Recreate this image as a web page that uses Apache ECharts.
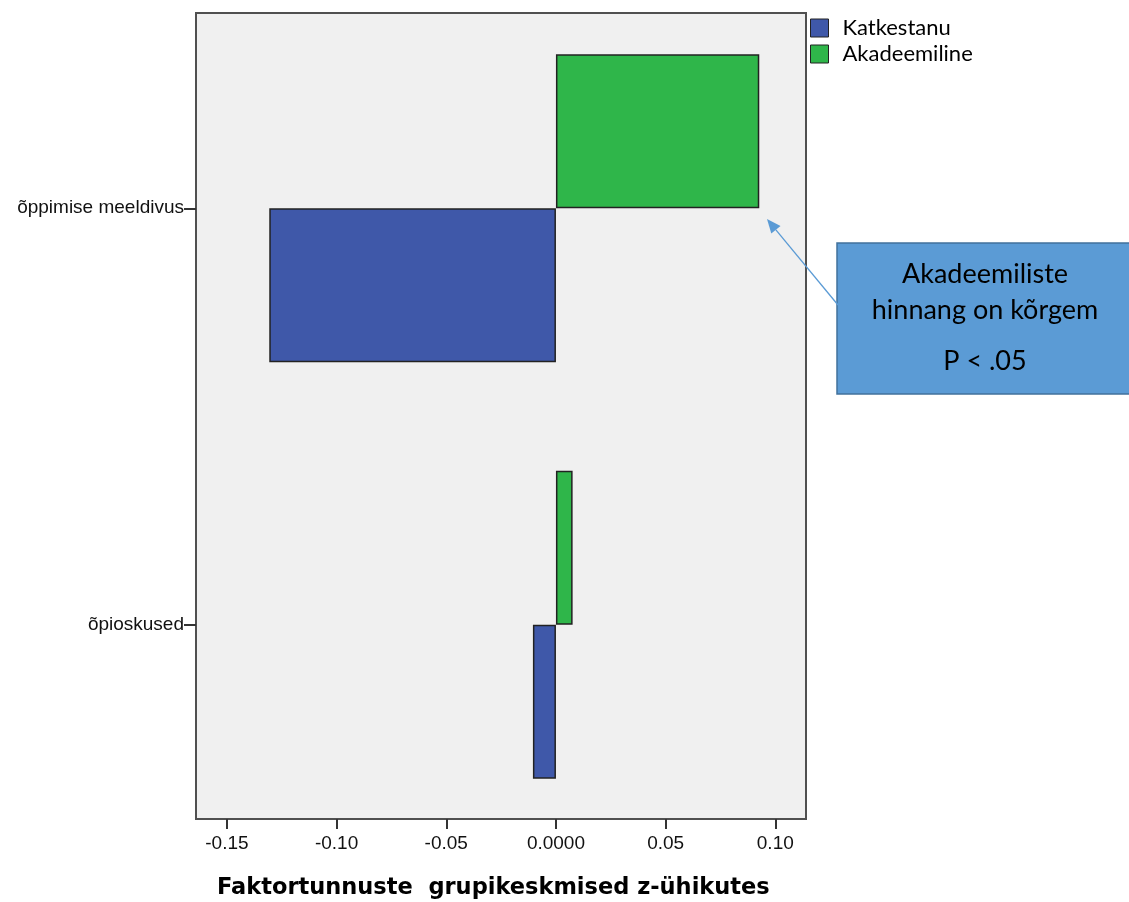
<!DOCTYPE html>
<html>
<head>
<meta charset="utf-8">
<script src="https://cdn.jsdelivr.net/npm/echarts@6/dist/echarts.min.js"></script>
<style>html,body{margin:0;padding:0;background:#fff;}#c{width:1129px;height:902px;}</style>
</head>
<body>
<div id="c"></div>
<script>
const categories = ['õppimise meeldivus', 'õpioskused'];
const katkestanu = [-0.1307, -0.0105];
const akadeemiline = [0.0927, 0.0076];
const tickValues = [-0.15, -0.10, -0.05, 0, 0.05, 0.10];
const tickLabels = ['-0.15', '-0.10', '-0.05', '0.0000', '0.05', '0.10'];
const xMin = -0.1641, xMax = 0.1140;

const chart = echarts.init(document.getElementById('c'), null, {renderer: 'canvas'});
const labelFont = 'Liberation Sans, Arial, sans-serif';
const calloutFont = 'Lato, "Open Sans", sans-serif';

const tip = [767, 219], tail = [838, 305];
const dx = tail[0]-tip[0], dy = tail[1]-tip[1], L = Math.hypot(dx, dy);
const ux = dx/L, uy = dy/L, ah = 14, aw = 6;
const bx = tip[0]+ux*ah, by = tip[1]+uy*ah;

chart.setOption({
  animation: false,
  backgroundColor: '#ffffff',
  grid: [
    {left: 196, right: 1129-806, top: 0, height: 833, show: false, containLabel: false},
    {left: 196, right: 1129-806, top: 13, bottom: 902-819, show: true,
     backgroundColor: '#f0f0f0', borderColor: '#505050', borderWidth: 2, z: 0}
  ],
  xAxis: [
    {type: 'value', gridIndex: 0, min: xMin, max: xMax, show: false},
    {type: 'value', gridIndex: 1, min: xMin, max: xMax, position: 'bottom',
     axisLine: {show: false}, splitLine: {show: false},
     axisTick: {show: true, length: 10, customValues: tickValues, lineStyle: {color: '#333', width: 2}},
     axisLabel: {customValues: tickValues, margin: 15, color: '#111', fontSize: 19, fontFamily: labelFont,
       formatter: v => { const i = tickValues.findIndex(t => Math.abs(t - v) < 1e-9); return i >= 0 ? tickLabels[i] : ''; }}
    }
  ],
  yAxis: [
    {type: 'category', gridIndex: 0, data: categories, inverse: true,
     axisLine: {show: false, onZero: false},
     axisTick: {show: true, alignWithLabel: true, length: 12, lineStyle: {color: '#333', width: 2}},
     axisLabel: {margin: 12, color: '#111', fontSize: 19, fontFamily: labelFont},
     splitLine: {show: false}},
    {type: 'value', gridIndex: 1, show: false}
  ],
  legend: {
    orient: 'vertical', left: 810, top: 17, padding: 0, itemWidth: 18, itemHeight: 18, itemGap: 4,
    icon: 'rect', data: ['Katkestanu', 'Akadeemiline'],
    textStyle: {fontSize: 22, lineHeight: 21, color: '#000', fontFamily: calloutFont, padding: [0, 0, 0, 9]},
    itemStyle: {borderColor: '#222', borderWidth: 1}
  },
  series: [
    {name: 'Akadeemiline', type: 'bar', xAxisIndex: 0, yAxisIndex: 0, data: akadeemiline,
     barWidth: 154, barGap: '0%', z: 3,
     itemStyle: {color: '#2fb64a', borderColor: '#222', borderWidth: 1.5}},
    {name: 'Katkestanu', type: 'bar', xAxisIndex: 0, yAxisIndex: 0, data: katkestanu,
     barWidth: 154, barGap: '0%', z: 3,
     itemStyle: {color: '#3f58a9', borderColor: '#222', borderWidth: 1.5}}
  ],
  graphic: [
    {type: 'text', x: 217, y: 888, style: {text: 'Faktortunnuste  grupikeskmised z-ühikutes',
      font: 'bold 22.5px "DejaVu Sans", sans-serif', fill: '#000', verticalAlign: 'middle'}},
    {type: 'rect', shape: {x: 837, y: 243, width: 320, height: 151},
     style: {fill: '#5b9bd5', stroke: '#41719c', lineWidth: 1.5}, z: 10},
    {type: 'text', x: 985, y: 274, style: {text: 'Akadeemiliste', font: '27px ' + calloutFont, fill: '#000', align: 'center', verticalAlign: 'middle'}, z: 11},
    {type: 'text', x: 985, y: 310, style: {text: 'hinnang on kõrgem', font: '27px ' + calloutFont, fill: '#000', align: 'center', verticalAlign: 'middle'}, z: 11},
    {type: 'text', x: 985, y: 361, style: {text: 'P < .05', font: '27px ' + calloutFont, fill: '#000', align: 'center', verticalAlign: 'middle'}, z: 11},
    {type: 'line', shape: {x1: tail[0], y1: tail[1], x2: bx, y2: by}, style: {stroke: '#5b9bd5', lineWidth: 1.3}, z: 10},
    {type: 'polygon', shape: {points: [[tip[0], tip[1]], [bx - uy*aw, by + ux*aw], [bx + uy*aw, by - ux*aw]]},
     style: {fill: '#5b9bd5'}, z: 10}
  ]
});
</script>
</body>
</html>
